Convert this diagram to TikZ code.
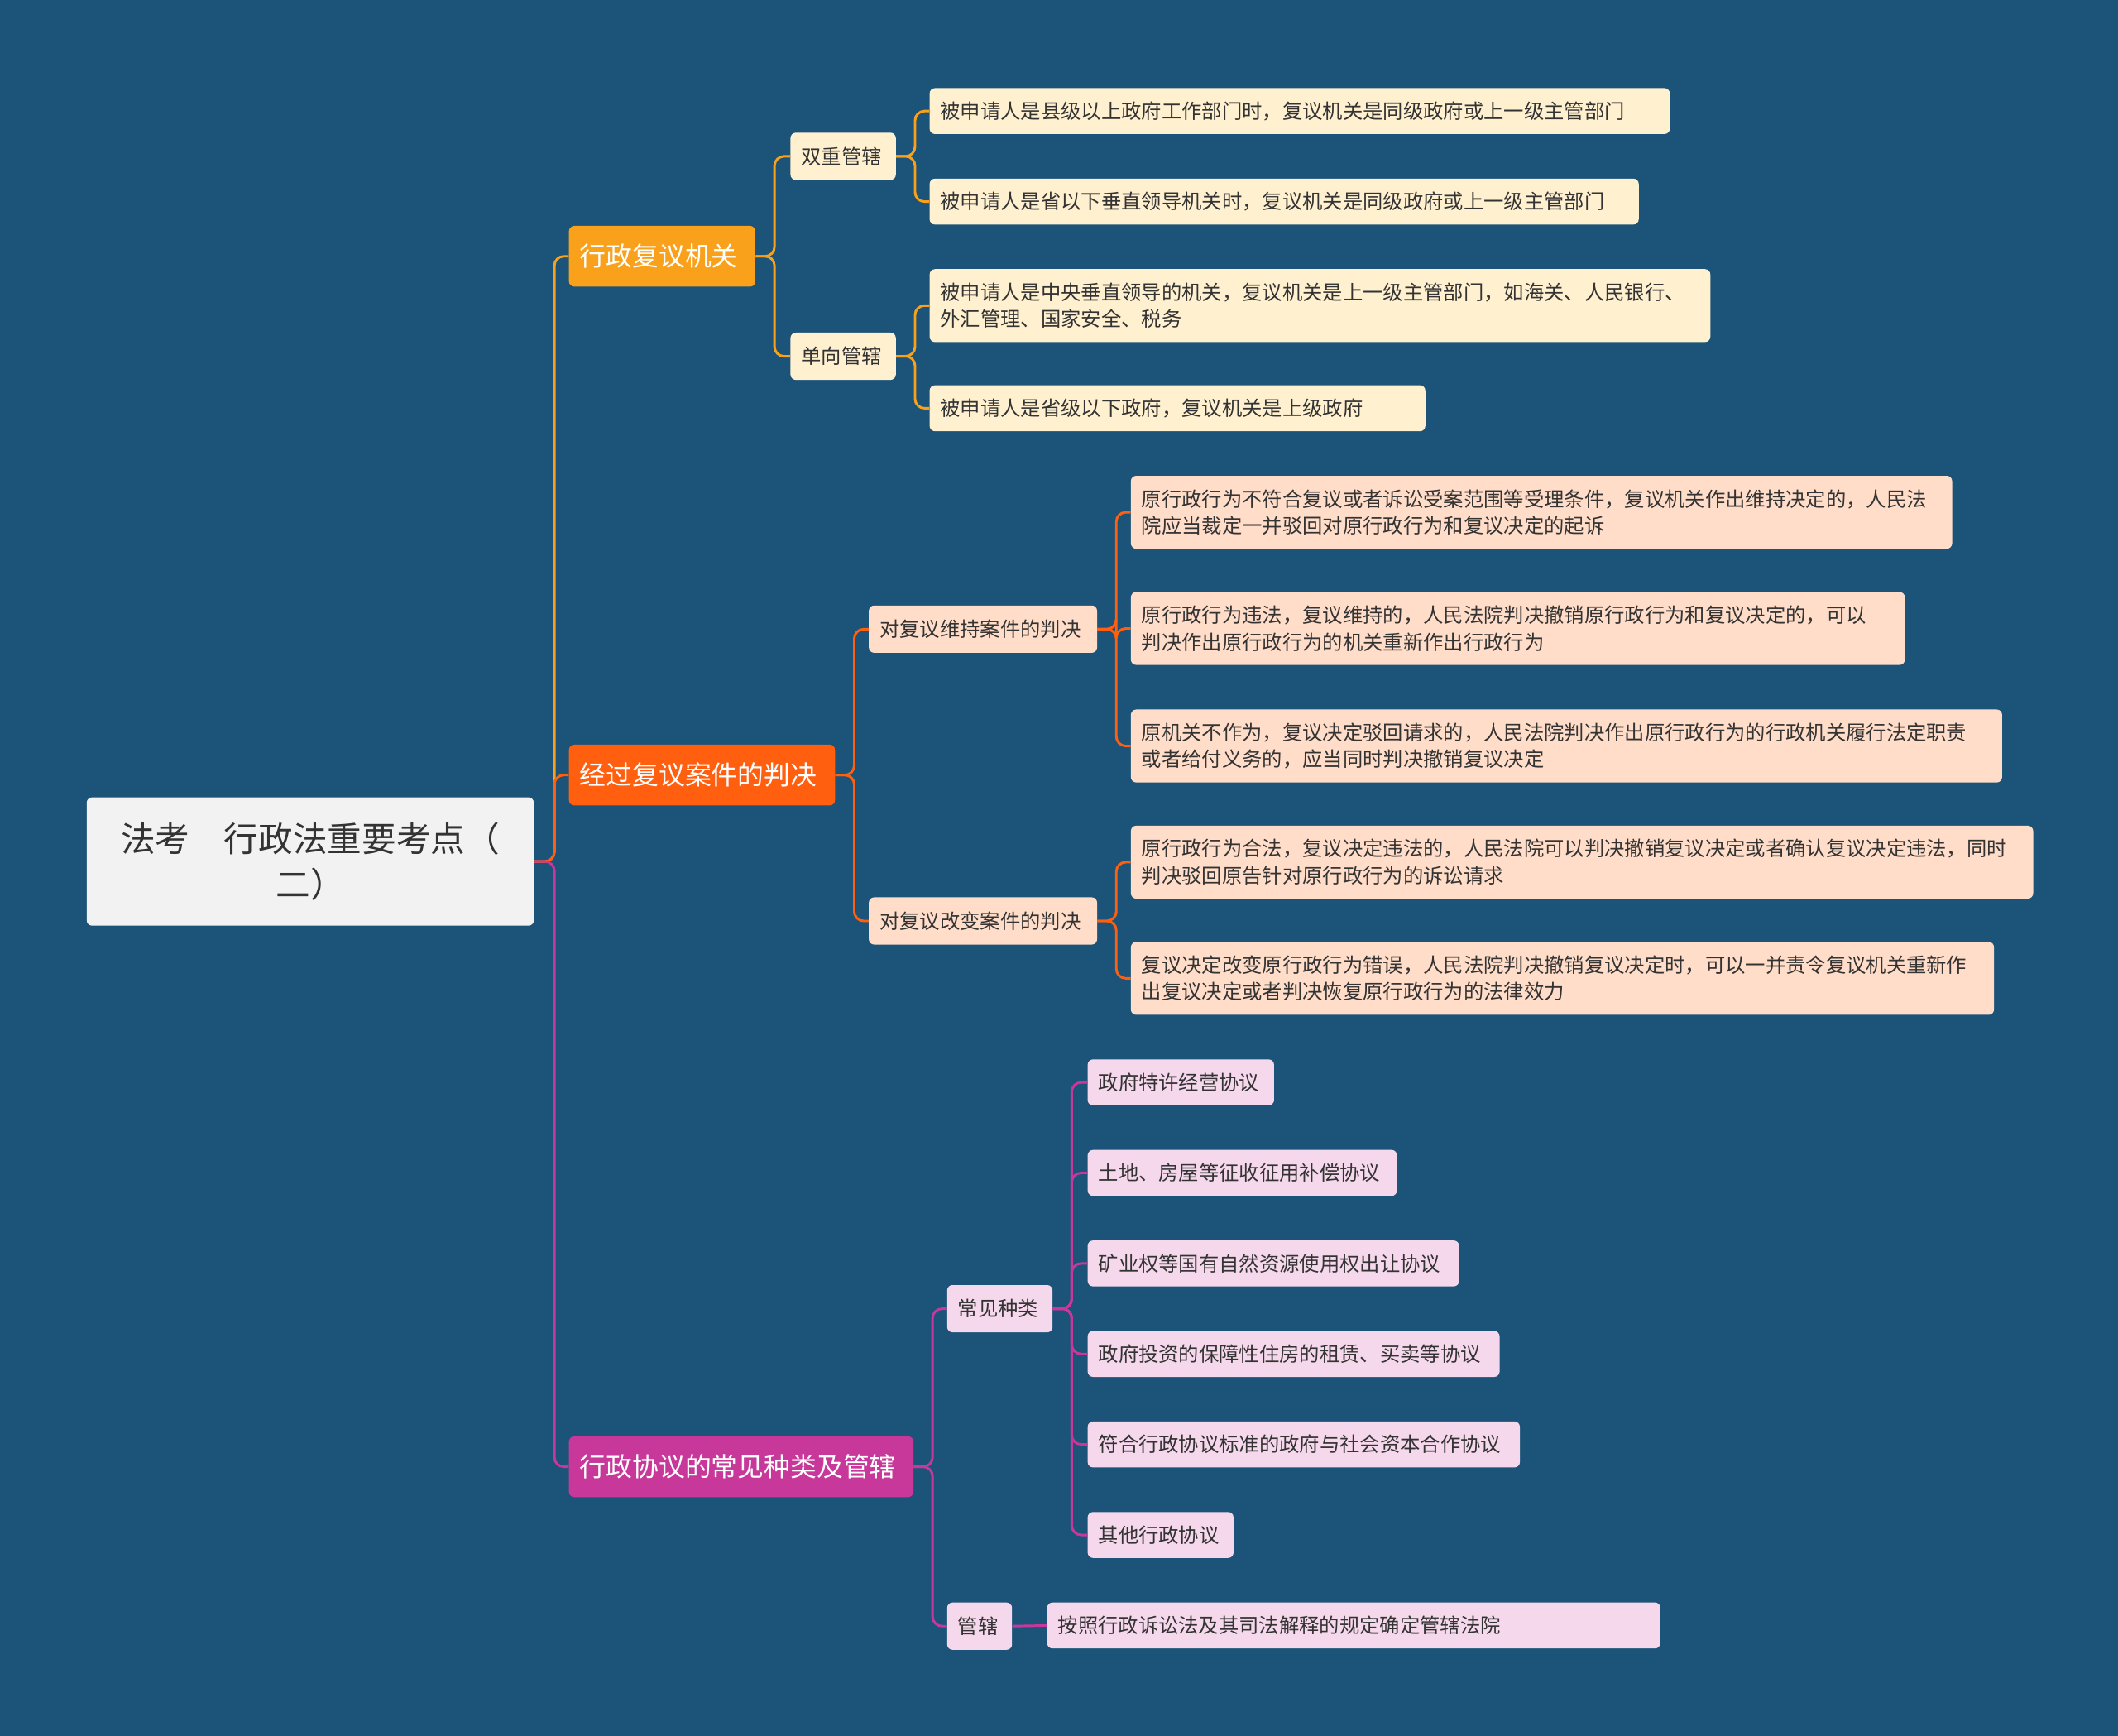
\documentclass[tikz,border=0pt]{standalone}
\usepackage{fontspec}
\setmainfont{Noto Sans CJK SC}
\definecolor{bg}{HTML}{1B5478}
\definecolor{cA}{HTML}{F9A11B}
\definecolor{cB}{HTML}{FF5F0F}
\definecolor{cC}{HTML}{C8389A}
\definecolor{lA}{HTML}{FFF0D0}
\definecolor{lB}{HTML}{FFDDC9}
\definecolor{lC}{HTML}{F6D8EC}
\definecolor{tx}{HTML}{333333}
\tikzset{
 box/.style={rounded corners=4pt,inner xsep=8pt,inner ysep=0pt,align=left,text=tx,font=\fontsize{14.9}{20}\selectfont},
 big/.style={box,text=white,font=\fontsize{19.5}{24}\selectfont},
 rootb/.style={box,align=center,font=\fontsize{25.5}{34}\selectfont},
 ln/.style={line width=1.8pt,rounded corners=7pt},
}
\newcommand\bx[8]{\pgfmathsetmacro\ww{#5-#3}\pgfmathsetmacro\hh{#6-#4}\pgfmathsetmacro\tw{#5-#3-14}%
\node[#1,fill=#7,minimum width=\ww pt,minimum height=\hh pt,text width=\tw pt,anchor=north west] (#2) at (#3,#4) {#8};}
\newcommand\cn[4]{\draw[ln,#1] (#2.east) -- ++(#4,0) |- (#3.west);}
\begin{document}
\begin{tikzpicture}[x=1pt,y=-1pt]
\fill[bg] (0,0) rectangle (1568,1285);
\useasboundingbox (0,0) rectangle (1568,1285);
\bx{rootb}{root}{64}{590}{393}{685}{white!95!black}{法考\quad 行政法重要考点（\\二）}
\bx{big}{A}{421}{167}{557}{212}{cA}{行政复议机关}
\bx{big}{B}{421}{551}{616}{596}{cB}{经过复议案件的判决}
\bx{big}{C}{421}{1063}{674}{1108}{cC}{行政协议的常见种类及管辖}
\bx{box}{A1}{585}{98}{661}{133}{lA}{双重管辖}
\bx{box}{A2}{585}{246}{661}{281}{lA}{单向管辖}
\bx{box}{A11}{688}{65}{1234}{99}{lA}{被申请人是县级以上政府工作部门时，复议机关是同级政府或上一级主管部门}
\bx{box}{A12}{688}{132}{1211}{166}{lA}{被申请人是省以下垂直领导机关时，复议机关是同级政府或上一级主管部门}
\bx{box}{A21}{688}{199}{1264}{253}{lA}{被申请人是中央垂直领导的机关，复议机关是上一级主管部门，如海关、人民银行、\\外汇管理、国家安全、税务}
\bx{box}{A22}{688}{285}{1053}{319}{lA}{被申请人是省级以下政府，复议机关是上级政府}
\bx{box}{B1}{643}{448}{810}{483}{lB}{对复议维持案件的判决}
\bx{box}{B2}{643}{664}{810}{699}{lB}{对复议改变案件的判决}
\bx{box}{B11}{837}{352}{1443}{406}{lB}{原行政行为不符合复议或者诉讼受案范围等受理条件，复议机关作出维持决定的，人民法\\院应当裁定一并驳回对原行政行为和复议决定的起诉}
\bx{box}{B12}{837}{438}{1408}{492}{lB}{原行政行为违法，复议维持的，人民法院判决撤销原行政行为和复议决定的，可以\\判决作出原行政行为的机关重新作出行政行为}
\bx{box}{B13}{837}{525}{1480}{579}{lB}{原机关不作为，复议决定驳回请求的，人民法院判决作出原行政行为的行政机关履行法定职责\\或者给付义务的，应当同时判决撤销复议决定}
\bx{box}{B21}{837}{611}{1503}{665}{lB}{原行政行为合法，复议决定违法的，人民法院可以判决撤销复议决定或者确认复议决定违法，同时\\判决驳回原告针对原行政行为的诉讼请求}
\bx{box}{B22}{837}{697}{1474}{751}{lB}{复议决定改变原行政行为错误，人民法院判决撤销复议决定时，可以一并责令复议机关重新作\\出复议决定或者判决恢复原行政行为的法律效力}
\bx{box}{C1}{701}{951}{777}{986}{lC}{常见种类}
\bx{box}{C2}{701}{1186}{747}{1221}{lC}{管辖}
\bx{box}{C11}{805}{784}{941}{818}{lC}{政府特许经营协议}
\bx{box}{C12}{805}{851}{1032}{885}{lC}{土地、房屋等征收征用补偿协议}
\bx{box}{C13}{805}{918}{1078}{952}{lC}{矿业权等国有自然资源使用权出让协议}
\bx{box}{C14}{805}{985}{1108}{1019}{lC}{政府投资的保障性住房的租赁、买卖等协议}
\bx{box}{C15}{805}{1052}{1123}{1086}{lC}{符合行政协议标准的政府与社会资本合作协议}
\bx{box}{C16}{805}{1119}{911}{1153}{lC}{其他行政协议}
\bx{box}{C21}{775}{1186}{1227}{1220}{lC}{按照行政诉讼法及其司法解释的规定确定管辖法院}
\cn{cA}{root}{A}{15}
\cn{cB}{root}{B}{15}
\cn{cC}{root}{C}{15}
\foreach \c in {A1,A2}{\cn{cA}{A}{\c}{14}}
\foreach \c in {A11,A12}{\cn{cA}{A1}{\c}{14}}
\foreach \c in {A21,A22}{\cn{cA}{A2}{\c}{14}}
\foreach \c in {B1,B2}{\cn{cB}{B}{\c}{14}}
\foreach \c in {B11,B12,B13}{\cn{cB}{B1}{\c}{14}}
\foreach \c in {B21,B22}{\cn{cB}{B2}{\c}{14}}
\foreach \c in {C1,C2}{\cn{cC}{C}{\c}{14}}
\foreach \c in {C11,C12,C13,C14,C15,C16}{\cn{cC}{C1}{\c}{14}}
\draw[ln,cC] (C2.east) -- (C21.west);
\end{tikzpicture}
\end{document}
